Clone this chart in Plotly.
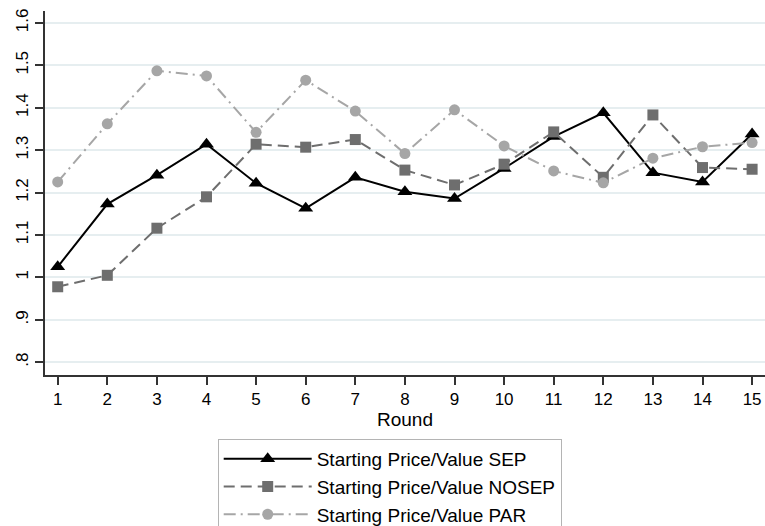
import plotly.graph_objects as go

rounds = list(range(1, 16))
sep = [1.025, 1.173, 1.241, 1.314, 1.222, 1.163, 1.236, 1.202, 1.186, 1.257, 1.332, 1.388, 1.247, 1.225, 1.338]
nosep = [0.978, 1.005, 1.116, 1.190, 1.314, 1.307, 1.325, 1.253, 1.218, 1.267, 1.343, 1.236, 1.383, 1.259, 1.255]
par = [1.225, 1.362, 1.487, 1.475, 1.342, 1.465, 1.392, 1.292, 1.395, 1.310, 1.251, 1.223, 1.281, 1.308, 1.318]

ytick_vals = [0.8, 0.9, 1.0, 1.1, 1.2, 1.3, 1.4, 1.5, 1.6]
ytick_text = [".8", ".9", "1", "1.1", "1.2", "1.3", "1.4", "1.5", "1.6"]
names = ["Starting Price/Value SEP", "Starting Price/Value NOSEP", "Starting Price/Value PAR"]

FONT = "Liberation Sans, Arial, sans-serif"

fig = go.Figure()
fig.add_trace(go.Scatter(
    x=rounds, y=sep, name=names[0], mode="lines+markers",
    line=dict(color="#000000", width=2, dash="solid"),
    marker=dict(symbol="triangle-up", size=13, color="#000000"),
))
fig.add_trace(go.Scatter(
    x=rounds, y=nosep, name=names[1], mode="lines+markers",
    line=dict(color="#6e6e6e", width=2, dash="11px,6px"),
    marker=dict(symbol="square", size=11, color="#6e6e6e"),
))
fig.add_trace(go.Scatter(
    x=rounds, y=par, name=names[2], mode="lines+markers",
    line=dict(color="#a6a6a6", width=2, dash="12px,5px,2px,5px"),
    marker=dict(symbol="circle", size=11, color="#a6a6a6"),
))

fig.update_layout(
    width=765, height=526,
    margin=dict(l=45, r=0, t=11, b=151, autoexpand=False),
    paper_bgcolor="white", plot_bgcolor="white",
    font=dict(family=FONT, color="#000000"),
    showlegend=True,
    legend=dict(
        x=(217.7 - 45) / 720, y=(375 - 439) / 364,
        xanchor="left", yanchor="top",
        bordercolor="#b4b4b4", borderwidth=1,
        font=dict(size=19, family=FONT),
        itemwidth=88,
        bgcolor="white",
    ),
    xaxis=dict(
        range=[0.744, 15.26],
        tickvals=rounds,
        ticks="outside", ticklen=8, tickwidth=1.5, tickcolor="#333333",
        showline=True, linecolor="#333333", linewidth=1.5,
        showgrid=False, zeroline=False,
        tickfont=dict(size=17),
        title=dict(text="Round", font=dict(size=19), standoff=0),
    ),
    yaxis=dict(
        range=[0.770, 1.628],
        tickvals=ytick_vals, ticktext=ytick_text,
        tickangle=-90,
        ticks="outside", ticklen=8, tickwidth=1.5, tickcolor="#333333",
        showline=True, linecolor="#333333", linewidth=1.5,
        showgrid=True, gridcolor="#e6eef0", gridwidth=1.5,
        zeroline=False,
        tickfont=dict(size=17),
    ),
)

fig.write_html("out.html")
